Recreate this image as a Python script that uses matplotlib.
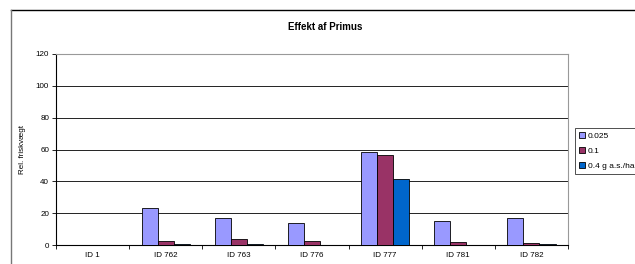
import numpy as np
import matplotlib
matplotlib.use('Agg')
import matplotlib.pyplot as plt
from matplotlib.lines import Line2D

plt.rcParams['font.family'] = ['Liberation Sans', 'DejaVu Sans']

categories = ['ID 1', 'ID 762', 'ID 763', 'ID 776', 'ID 777', 'ID 781', 'ID 782']
series_labels = ['0.025', '0.1', '0.4 g a.s./ha']
dose_0025 = [0, 23.4, 16.8, 13.8, 58.5, 15.0, 16.8]
dose_01 = [0, 2.5, 3.8, 2.5, 56.6, 2.0, 1.2]
dose_04 = [0, 0.5, 0.5, 0, 41.5, 0, 0.6]
colors = ['#9999FF', '#993366', '#0066CC']

fig = plt.figure(figsize=(6.35, 2.64), dpi=100)
ax = fig.add_axes([56 / 635, 1 - 245 / 264, 512 / 635, 191 / 264])

x = np.arange(len(categories))
width = 0.22
handles = []
for i, vals in enumerate([dose_0025, dose_01, dose_04]):
    b = ax.bar(x + (i - 1) * width, vals, width, color=colors[i],
               edgecolor='black', linewidth=0.6, label=series_labels[i], zorder=3)
    handles.append(b)

ax.set_xlim(-0.5, len(categories) - 0.5)
ax.set_ylim(0, 120)
ax.set_yticks(np.arange(0, 121, 20))
ax.set_xticks(x)
ax.set_xticklabels(categories)
ax.set_xticks(np.arange(-0.5, len(categories)), minor=True)
ax.tick_params(axis='x', which='major', length=0, labelsize=5.8, pad=5)
ax.tick_params(axis='x', which='minor', length=3, width=0.6, direction='out')
ax.tick_params(axis='y', length=3, width=0.6, labelsize=5.8, pad=2)
ax.grid(axis='y', color='#222222', linewidth=0.7, zorder=0)
ax.set_axisbelow(True)

for side in ['top', 'right']:
    ax.spines[side].set_color('#999999')
    ax.spines[side].set_linewidth(0.8)
for side in ['left', 'bottom']:
    ax.spines[side].set_color('black')
    ax.spines[side].set_linewidth(0.8)

ax.set_ylabel('Rel. friskvægt', fontsize=5.8, labelpad=7)
fig.text(325 / 635, 1 - 27 / 264, 'Effekt af Primus', ha='center', va='center',
         fontsize=7, fontweight='bold')

# outer chart frame
fig.add_artist(Line2D([11 / 635, 1], [1 - 10 / 264, 1 - 10 / 264],
                      transform=fig.transFigure, color='black', linewidth=1))
fig.add_artist(Line2D([11 / 635, 11 / 635], [0, 1 - 10 / 264],
                      transform=fig.transFigure, color='#777777', linewidth=1))

leg = fig.legend(handles=handles, labels=series_labels, loc='upper left',
                 bbox_to_anchor=(575 / 635, 1 - 128 / 264), fontsize=6,
                 frameon=True, fancybox=False, handlelength=0.8, handleheight=0.8,
                 handletextpad=0.3, borderpad=0.45, labelspacing=0.85,
                 borderaxespad=0)
leg.get_frame().set_edgecolor('black')
leg.get_frame().set_linewidth(0.6)

fig.savefig('out.png', dpi=100)
